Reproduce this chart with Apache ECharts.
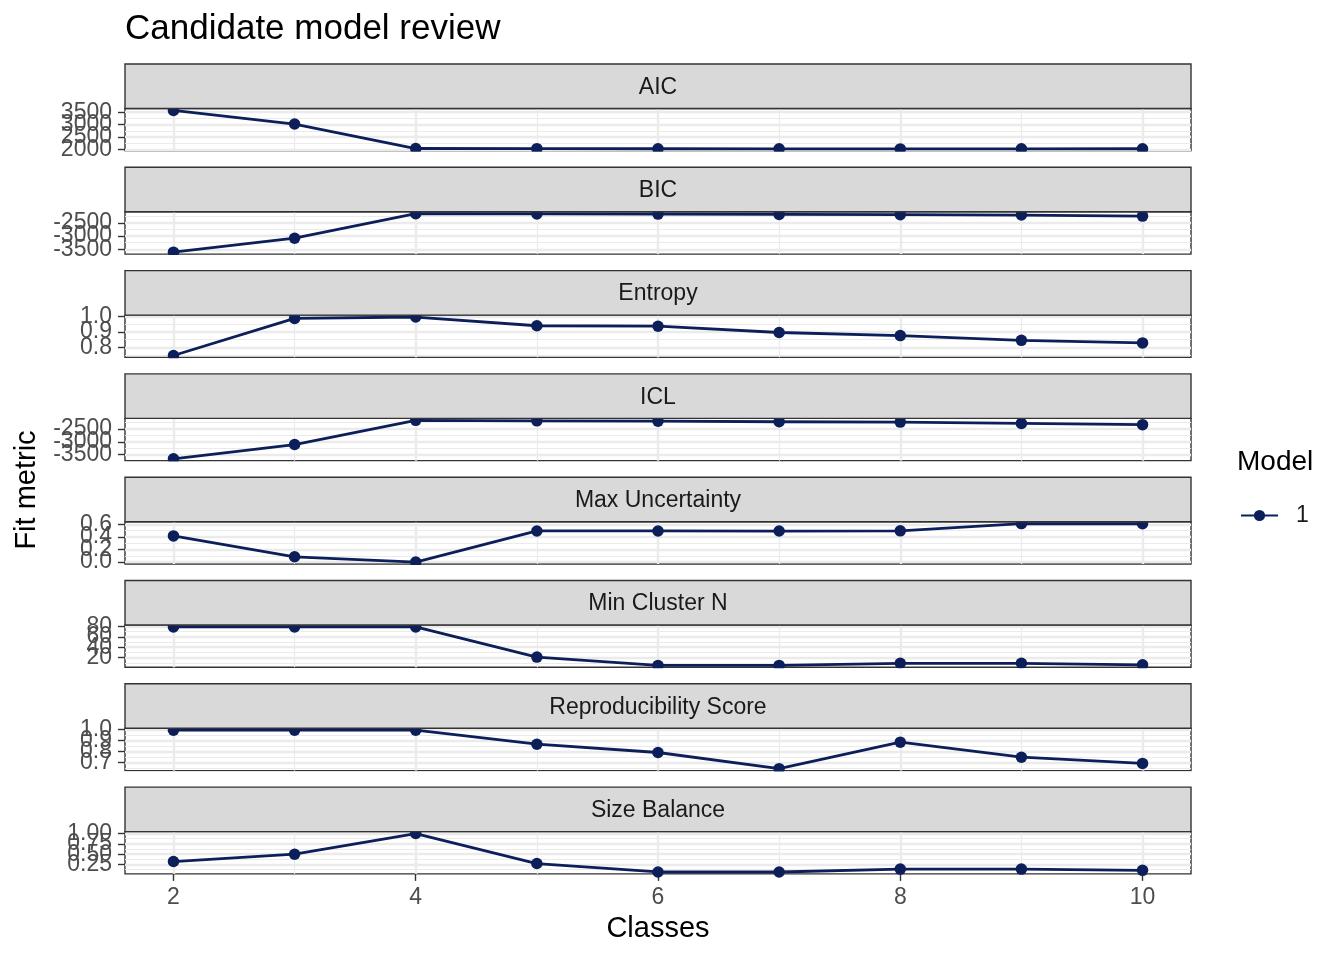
<!DOCTYPE html>
<html>
<head>
    <meta charset="utf-8">
    <title>Candidate model review</title>
    <script src="https://cdn.jsdelivr.net/npm/echarts@6/dist/echarts.min.js"></script>
    <style>
        html, body {
            margin: 0;
            padding: 0;
            background: #ffffff;
        }

        #main {
            width: 1344px;
            height: 960px;
        }
    </style>
</head>
<body>
<div id="main"></div>
<script type="text/javascript">
    // data
    const classes = [2, 3, 4, 5, 6, 7, 8, 9, 10];
    const metrics = ['AIC', 'BIC', 'Entropy', 'ICL', 'Max Uncertainty', 'Min Cluster N', 'Reproducibility Score', 'Size Balance'];

    const aic = [3570, 3025, 2045, 2040, 2036, 2034, 2030, 2032, 2035];
    const bic = [-3610, -3080, -2150, -2158, -2165, -2178, -2185, -2200, -2240];
    const entropy = [0.747, 0.989, 0.998, 0.941, 0.938, 0.897, 0.877, 0.846, 0.829];
    const icl = [-3658, -3103, -2160, -2180, -2195, -2215, -2230, -2280, -2330];
    const maxUncertainty = [0.416, 0.084, 0.0, 0.495, 0.495, 0.494, 0.497, 0.612, 0.610];
    const minClusterN = [79, 79, 79, 21, 5, 5, 9, 9, 6];
    const reproducibility = [0.995, 0.995, 0.995, 0.867, 0.791, 0.643, 0.886, 0.748, 0.691];
    const sizeBalance = [0.322, 0.50, 1.0, 0.274, 0.07, 0.07, 0.14, 0.14, 0.11];

    // tick labels
    const xTicks = [2, 4, 6, 8, 10];
    const aicTicks = [2000, 2500, 3000, 3500];
    const bicTicks = [-3500, -3000, -2500];
    const entropyTicks = [0.8, 0.9, 1.0];
    const iclTicks = [-3500, -3000, -2500];
    const uncertaintyTicks = [0, 0.2, 0.4, 0.6];
    const minNTicks = [20, 40, 60, 80];
    const reproTicks = [0.7, 0.8, 0.9, 1.0];
    const balanceTicks = [0.25, 0.5, 0.75, 1.0];
    const tickDigits = [0, 0, 1, 0, 1, 0, 1, 2];

    const values = [aic, bic, entropy, icl, maxUncertainty, minClusterN, reproducibility, sizeBalance];
    const ticks = [aicTicks, bicTicks, entropyTicks, iclTicks, uncertaintyTicks, minNTicks, reproTicks, balanceTicks];

    // layout
    const font = "'Liberation Sans', Arial, Helvetica, sans-serif";
    const lineColor = '#0D1F5A';
    const panelLeft = 125, panelWidth = 1066;
    const firstTop = 64, pitch = 103.3, stripH = 44.5, plotH = 42.3;

    // ggplot style 5% padding
    function expand(arr) {
        const lo = Math.min.apply(null, arr), hi = Math.max.apply(null, arr);
        const pad = (hi - lo) * 0.05;
        return [lo - pad, hi + pad];
    }

    // minor breaks halfway between majors, one step beyond each end if inside range
    function minors(t, range) {
        const step = t[1] - t[0];
        const out = [];
        for (let k = -1; k < t.length; k++) {
            const m = Math.round((t[0] + step * (k + 0.5)) * 1e9) / 1e9;
            if (m > range[0] && m < range[1]) out.push(m);
        }
        return out;
    }

    // an axis that only draws grid lines at the given values
    function gridAxis(gridIndex, range, vals, width) {
        return {
            type: 'value',
            gridIndex: gridIndex,
            min: range[0],
            max: range[1],
            axisLine: {show: false},
            axisTick: {show: false, customValues: vals},
            axisLabel: {show: false, customValues: vals},
            splitLine: {show: true, lineStyle: {color: '#EBEBEB', width: width}}
        };
    }

    // an axis carrying one tick + label, so the labels may overlap like in ggplot
    function labelAxis(gridIndex, range, v, digits, margin) {
        return {
            type: 'value',
            gridIndex: gridIndex,
            min: range[0],
            max: range[1],
            axisLine: {show: false},
            axisTick: {show: true, customValues: [v], length: 7, lineStyle: {color: '#333333', width: 1.4}},
            axisLabel: {
                show: true,
                customValues: [v],
                margin: margin,
                fontSize: 23,
                color: '#4D4D4D',
                fontFamily: font,
                showMinLabel: true,
                showMaxLabel: true,
                formatter: x => Number(x).toFixed(digits)
            },
            splitLine: {show: false}
        };
    }

    const xRange = expand(classes);
    const xMinor = minors(xTicks, xRange);

    const grids = [], xAxes = [], yAxes = [], series = [], graphics = [];

    metrics.forEach((name, i) => {
        const stripTop = firstTop + pitch * i;
        const plotTop = stripTop + stripH;
        const last = i === metrics.length - 1;
        const yRange = expand(values[i]);

        grids.push({
            left: panelLeft,
            width: panelWidth,
            top: plotTop,
            height: plotH,
            show: true,
            borderColor: '#333333',
            borderWidth: 1.4,
            backgroundColor: '#ffffff'
        });

        const xIndex = xAxes.length;
        xAxes.push(gridAxis(i, xRange, xTicks, 2.4));
        xAxes.push(gridAxis(i, xRange, xMinor, 1.2));
        if (last) {
            xTicks.forEach(v => xAxes.push(Object.assign(labelAxis(i, xRange, v, 0, 12), {position: 'bottom'})));
        }

        const yIndex = yAxes.length;
        yAxes.push(gridAxis(i, yRange, ticks[i], 2.4));
        yAxes.push(gridAxis(i, yRange, minors(ticks[i], yRange), 1.2));
        ticks[i].forEach(v => yAxes.push(Object.assign(labelAxis(i, yRange, v, tickDigits[i], 13), {position: 'left'})));

        series.push({
            name: '1',
            type: 'line',
            xAxisIndex: xIndex,
            yAxisIndex: yIndex,
            data: classes.map((c, k) => [c, values[i][k]]),
            symbol: 'circle',
            symbolSize: 11.5,
            showSymbol: true,
            clip: true,
            lineStyle: {color: lineColor, width: 2.8},
            itemStyle: {color: lineColor},
            emphasis: {disabled: true},
            z: 3
        });

        // hide the parts of points spilling below the panel (ggplot clips)
        if (!last) {
            graphics.push({
                type: 'rect',
                z: 50,
                shape: {x: panelLeft - 1, y: plotTop + plotH + 0.9, width: panelWidth + 2, height: pitch - stripH - plotH - 0.9},
                style: {fill: '#ffffff'}
            });
        }

        // strip
        graphics.push({
            type: 'rect',
            z: 60,
            shape: {x: panelLeft, y: stripTop, width: panelWidth, height: stripH},
            style: {fill: '#D9D9D9', stroke: '#333333', lineWidth: 1.4}
        });
        graphics.push({
            type: 'text',
            z: 61,
            x: panelLeft + panelWidth / 2,
            y: stripTop + stripH / 2 + 1.3,
            style: {text: name, fontSize: 23, fontFamily: font, fill: '#1A1A1A', align: 'center', verticalAlign: 'middle'}
        });
    });

    // titles
    graphics.push({
        type: 'text', z: 61, x: 125, y: 29,
        style: {text: 'Candidate model review', fontSize: 35, fontFamily: font, fill: '#000000', align: 'left', verticalAlign: 'middle'}
    });
    graphics.push({
        type: 'text', z: 61, x: 658, y: 929,
        style: {text: 'Classes', fontSize: 29, fontFamily: font, fill: '#000000', align: 'center', verticalAlign: 'middle'}
    });
    graphics.push({
        type: 'text', z: 61, x: 27, y: 490, rotation: Math.PI / 2,
        style: {text: 'Fit metric', fontSize: 29, fontFamily: font, fill: '#000000', align: 'center', verticalAlign: 'middle'}
    });
    graphics.push({
        type: 'text', z: 61, x: 1237, y: 462,
        style: {text: 'Model', fontSize: 28, fontFamily: font, fill: '#000000', align: 'left', verticalAlign: 'middle'}
    });

    var myChart = echarts.init(document.getElementById('main'));

    var option = {
        animation: false,
        backgroundColor: '#ffffff',
        textStyle: {fontFamily: font},
        legend: {
            data: ['1'],
            left: 1240,
            top: 504,
            padding: 0,
            itemWidth: 37,
            itemHeight: 14,
            textStyle: {fontSize: 23, color: '#1A1A1A', fontFamily: font, padding: [0, 0, 0, 13]}
        },
        grid: grids,
        xAxis: xAxes,
        yAxis: yAxes,
        series: series,
        graphic: graphics
    };

    myChart.setOption(option);
</script>
</body>
</html>
